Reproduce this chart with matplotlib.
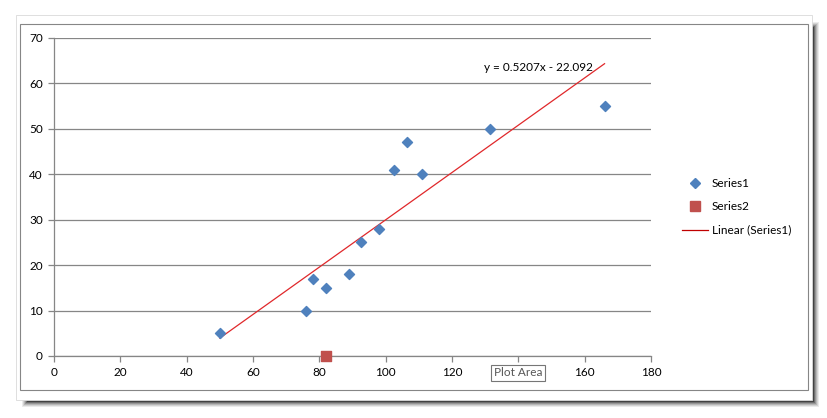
import numpy as np
import matplotlib
matplotlib.use("Agg")
import matplotlib.pyplot as plt
from matplotlib.patches import Rectangle
from matplotlib.lines import Line2D

# --- data ---
s1_x = [50, 76, 78, 82, 89, 92.5, 98, 102.5, 106.5, 111, 131.5, 166]
s1_y = [5, 10, 17, 15, 18, 25, 28, 41, 47, 40, 50, 55]
s2_x = [82]
s2_y = [0]
slope, intercept = 0.5207, -22.092
x_ticks = [0, 20, 40, 60, 80, 100, 120, 140, 160, 180]
x_labels = ['0', '20', '40', '60', '80', '100', '120', '', '160', '180']  # 140 hidden by tooltip
y_ticks = [0, 10, 20, 30, 40, 50, 60, 70]

W, H = 828, 418
plt.rcParams['font.family'] = ['Lato', 'DejaVu Sans']
fig = plt.figure(figsize=(W / 100, H / 100), dpi=100)
fig.patch.set_facecolor('white')


def box(x0, y0, x1, y1):
    # pixel box (top-left origin) -> figure fraction rect
    return (x0 / W, 1 - y1 / H), (x1 - x0) / W, (y1 - y0) / H


# drop shadow of the chart card
for i, a in enumerate([0.08, 0.10, 0.13, 0.18, 0.26, 0.4]):
    g = 6 - i
    xy, w, h = box(22 + i, 22 + i, 812 + g + 1, 400 + g + 1)
    fig.patches.append(Rectangle(xy, w, h, transform=fig.transFigure,
                                 facecolor='black', alpha=a, edgecolor='none', zorder=0))
xy, w, h = box(16, 15, 812, 400)
fig.patches.append(Rectangle(xy, w, h, transform=fig.transFigure,
                             facecolor='white', edgecolor='#d9d9d9', lw=0.6, zorder=1))
xy, w, h = box(20, 24, 808, 390)
fig.patches.append(Rectangle(xy, w, h, transform=fig.transFigure,
                             facecolor='white', edgecolor='#868686', lw=0.8, zorder=2))

ax = fig.add_axes([54 / W, 1 - 356 / H, (651 - 54) / W, (356 - 38) / H])
ax.set_facecolor('none')
ax.set_zorder(3)

ax.scatter(s1_x, s1_y, marker='D', s=26, color='#4F81BD', zorder=4, label='Series1')
ax.scatter(s2_x, s2_y, marker='s', s=42, color='#C0504D', zorder=4, clip_on=False, label='Series2')
tx = np.array([min(s1_x), max(s1_x)])
ax.plot(tx, slope * tx + intercept, color='#E0282B', lw=0.9, zorder=3)
ax.text(146, 63.6, 'y = 0.5207x - 22.092', ha='center', va='center', fontsize=8.5)

ax.set_xlim(0, 180)
ax.set_ylim(0, 70)
ax.set_xticks(x_ticks, x_labels)
ax.set_yticks(y_ticks)
ax.grid(axis='y', color='#868686', lw=0.9)
ax.set_axisbelow(True)
for s in ['top', 'right']:
    ax.spines[s].set_visible(False)
for s in ['left', 'bottom']:
    ax.spines[s].set_color('#868686')
    ax.spines[s].set_linewidth(0.9)
ax.tick_params(direction='out', length=4, width=0.9, color='#868686',
               labelsize=8.5, labelcolor='black')
ax.tick_params(axis='x', pad=4)
ax.tick_params(axis='y', pad=4)

handles = [
    Line2D([], [], marker='D', ls='none', color='#4F81BD', markersize=5),
    Line2D([], [], marker='s', ls='none', color='#C0504D', markersize=6.5),
    Line2D([], [], color='#C00000', lw=0.9),
]
labels = ['Series1', 'Series2', 'Linear (Series1)']
leg = fig.legend(handles, labels, loc='upper left', bbox_to_anchor=(676 / W, 1 - 172 / H),
                 frameon=False, fontsize=8.5, handlelength=2.2, handletextpad=0.35,
                 labelspacing=1.05, borderpad=0)

# "Plot Area" tooltip
fig.text(518 / W, 1 - 373 / H, 'Plot Area', ha='center', va='center', fontsize=8.5,
         color='#575757', zorder=6,
         bbox=dict(boxstyle='square,pad=0.25', facecolor='white', edgecolor='#767676', lw=0.8))

fig.savefig('out.png', dpi=100, facecolor='white')
